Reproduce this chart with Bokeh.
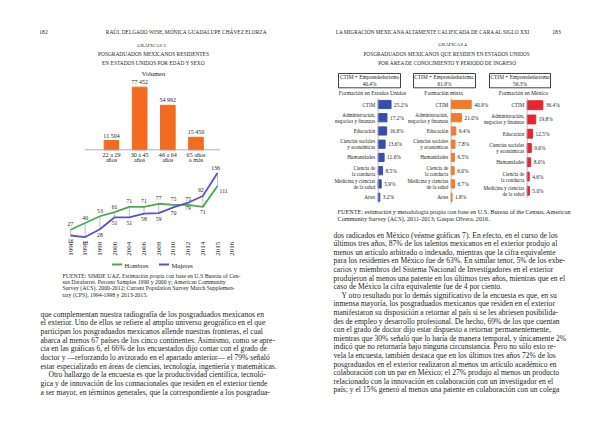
import math
from bokeh.plotting import figure
from bokeh.models import Range1d
from bokeh.core.properties import value
from bokeh.embed import file_html
from bokeh.resources import INLINE

# ---------------- data ----------------
age_groups = ["22 a 29\naños", "30 a 45\naños", "46 a 64\naños", "65 años\no más"]
age_volume = [11504, 77452, 54992, 15450]
age_volume_labels = ["11 504", "77 452", "54 992", "15 450"]

years = ["1990", "1994", "1998", "2000", "2004", "2006", "2008", "2010", "2012", "2014", "2015", "2016"]
hombres = [27, 40, 53, 61, 71, 71, 77, 75, 75, 71, 111]
mujeres = [16, 13, 28, 51, 51, 58, 59, 70, 79, 92, 136]

areas = ["CTIM", "Administración,\nnegocios y finanzas", "Educación",
         "Ciencias sociales\ny económicas", "Humanidades", "Ciencia de\nla conducta",
         "Medicina y ciencias\nde la salud", "Artes"]
pct_eu = [25.2, 17.2, 16.6, 13.6, 11.6, 8.5, 5.9, 3.2]
pct_mixta = [40.9, 21.0, 9.4, 7.8, 6.5, 6.0, 6.7, 1.8]
pct_mex = [36.4, 19.8, 12.5, 9.6, 8.0, 4.6, 5.0]
panel_titles = ["Formación en Estados Unidos", "Formación mixta", "Formación en México"]
box_texts = ["CTIM + Emprendedurismo\n40.4%", "CTIM + Emprendedurismo:\n61.9%", "CTIM + Emprendedurismo\n56.3%"]

left_body = [
    "que complementan nuestra radiografía de los posgraduados mexicanos en",
    "el exterior. Uno de ellos se refiere al amplio universo geográfico en el que",
    "participan los posgraduados mexicanos allende nuestras fronteras, el cual",
    "abarca al menos 67 países de los cinco continentes. Asimismo, como se apre-",
    "cia en las gráficas 6, el 66% de los encuestados dijo contar con el grado de",
    "doctor y —reforzando lo avizorado en el apartado anterior— el 79% señaló",
    "estar especializado en áreas de ciencias, tecnología, ingeniería y matemáticas.",
    "Otro hallazgo de la encuesta es que la productividad científica, tecnoló-",
    "gica y de innovación de los connacionales que residen en el exterior tiende",
    "a ser mayor, en términos generales, que la correspondiente a los posgradua-",
]
right_body = [
    "dos radicados en México (véanse gráficas 7). En efecto, en el curso de los",
    "últimos tres años, 87% de los talentos mexicanos en el exterior produjo al",
    "menos un artículo arbitrado o indexado, mientras que la cifra equivalente",
    "para los residentes en México fue de 63%. En similar tenor, 5% de los exbe-",
    "carios y miembros del Sistema Nacional de Investigadores en el exterior",
    "produjeron al menos una patente en los últimos tres años, mientras que en el",
    "caso de México la cifra equivalente fue de 4 por ciento.",
    "Y otro resultado por lo demás significativo de la encuesta es que, en su",
    "inmensa mayoría, los posgraduados mexicanos que residen en el exterior",
    "manifestaron su disposición a retornar al país si se les abriesen posibilida-",
    "des de empleo y desarrollo profesional. De hecho, 69% de los que cuentan",
    "con el grado de doctor dijo estar dispuesto a retornar permanentemente,",
    "mientras que 30% señaló que lo haría de manera temporal, y únicamente 2%",
    "indicó que no retornaría bajo ninguna circunstancia. Pero no sólo esto re-",
    "vela la encuesta, también destaca que en los últimos tres años 72% de los",
    "posgraduados en el exterior realizaron al menos un artículo académico en",
    "colaboración con un par en México; el 27% produjo al menos un producto",
    "relacionado con la innovación en colaboración con un investigador en el",
    "país; y el 15% generó al menos una patente en colaboración con un colega",
]
left_source = [
    "FUENTE: SIMDE UAZ. Estimación propia con base en U.S Bureau of Cen-",
    "sus Dataferret. Percent Samples 1990 y 2000 y; American Community",
    "Survey (ACS), 2000-2012; Current Population Survey March Supplemen-",
    "tary (CPS), 1994-1998 y 2013-2015.",
]
right_source = [
    "FUENTE: estimación y metodología propia con base en U.S. Bureau of the Census, American",
    "Community Survey (ACS), 2011-2013; Gaspar Olvera, 2016.",
]

# ---------------- styling / layout ----------------
W, H = 584, 415
FX0, FX1 = 0, 584      # frame in page pixels
FY_BOT, FY_TOP = 415, 0
SERIF = "Liberation Serif"
INK = "#231f20"
ORANGE_L = "#f26b21"
GREEN = "#47ad4c"
VIOLET = "#5a50cc"
BLUE_B = "#3b4cb0"
ORANGE_B = "#f27a2a"
RED_B = "#e62631"

p = figure(width=W, height=H, x_range=Range1d(FX0, FX1), y_range=Range1d(FY_BOT, FY_TOP),
           output_backend="svg", toolbar_location=None, min_border=0)
p.axis.visible = False
p.grid.visible = False
p.outline_line_color = None
p.background_fill_color = "white"
p.border_fill_color = "white"


def lin_range(p0, p1, v0, v1, f0, f1):
    k = (v1 - v0) / (p1 - p0)
    return Range1d(start=v0 + (f0 - p0) * k, end=v0 + (f1 - p0) * k)


def txt(x, y, s, size, align="center", baseline="middle", color=INK, angle=0,
        style="normal", lh=1.15, **kw):
    xs = x if isinstance(x, list) else [x]
    ys = y if isinstance(y, list) else [y]
    ss = s if isinstance(s, list) else [s]
    p.text(x=xs, y=ys, text=ss, text_font=value(SERIF), text_font_size=f"{size}px",
           text_align=align, text_baseline=baseline, text_color=color, angle=angle,
           text_font_style=style, text_line_height=lh, **kw)


# ---------------- page headers ----------------
txt(43, 31, "182", 5.6)
txt(186, 31, "RAÚL DELGADO WISE, MÓNICA GUADALUPE CHÁVEZ ELORZA", 5.4)
txt(556, 31, "183", 5.6)
txt(433, 31, "LA MIGRACIÓN MEXICANA ALTAMENTE CALIFICADA DE CARA AL SIGLO XXI", 5.3)

# ---------------- left: bar chart (volume by age) ----------------
txt(151, 45, "GRÁFICAS 3", 5.0)
txt(153, 53, "POSGRADUADOS MEXICANOS RESIDENTES", 5.4)
txt(153, 62, "EN ESTADOS UNIDOS POR EDAD Y SEXO", 5.4)
txt(153, 73, "Volumen", 6.5)

p.extra_x_ranges["volx"] = lin_range(111, 195.5, 0, 3, FX0, FX1)
p.extra_y_ranges["voly"] = lin_range(149.3, 86.7, 0, 77452, FY_BOT, FY_TOP)
idx4 = list(range(len(age_groups)))
p.vbar(x=idx4, top=age_volume, bottom=0, width=0.52, color=ORANGE_L,
       x_range_name="volx", y_range_name="voly")
p.segment(x0=[-0.5 - 0.45], y0=[0], x1=[len(age_groups) - 0.5 + 0.35], y1=[0],
          line_color="#9a9a9a", line_width=0.8, x_range_name="volx", y_range_name="voly")
p.text(x=idx4, y=age_volume, text=age_volume_labels, y_offset=-2,
       text_font=value(SERIF), text_font_size="6px", text_align="center",
       text_baseline="bottom", text_color=INK, x_range_name="volx", y_range_name="voly")
p.text(x=idx4, y=[0] * 4, text=age_groups, y_offset=2,
       text_font=value(SERIF), text_font_size="6.1px", text_align="center",
       text_baseline="top", text_color=INK, text_line_height=0.95,
       x_range_name="volx", y_range_name="voly")

# ---------------- left: line chart (hombres / mujeres) ----------------
p.extra_x_ranges["yrx"] = lin_range(70, 231.7, 0, 11, FX0, FX1)
p.extra_y_ranges["yry"] = lin_range(243.3, 172.6, 0, 136, FY_BOT, FY_TOP)
idx_y = list(range(len(hombres)))
p.segment(x0=idx_y, y0=hombres, x1=idx_y, y1=mujeres, line_color="#8f8cc8",
          line_width=0.6, x_range_name="yrx", y_range_name="yry")
p.line(x=idx_y, y=hombres, line_color=GREEN, line_width=1.8,
       x_range_name="yrx", y_range_name="yry")
p.line(x=idx_y, y=mujeres, line_color=VIOLET, line_width=1.8,
       x_range_name="yrx", y_range_name="yry")
lab = dict(text_font=value(SERIF), text_font_size="5.8px", text_color=INK,
           x_range_name="yrx", y_range_name="yry")
n_reg = 9
p.text(x=idx_y[:n_reg], y=hombres[:n_reg], text=[str(v) for v in hombres[:n_reg]],
       y_offset=-3.5, text_align="center", text_baseline="bottom", **lab)
p.text(x=idx_y[:n_reg], y=mujeres[:n_reg], text=[str(v) for v in mujeres[:n_reg]],
       y_offset=3.5, text_align="center", text_baseline="top", **lab)
p.text(x=idx_y[n_reg:], y=mujeres[n_reg:], text=[str(v) for v in mujeres[n_reg:]],
       y_offset=-3.5, x_offset=-2, text_align="center", text_baseline="bottom", **lab)
p.text(x=[idx_y[n_reg]], y=[hombres[n_reg]], text=[str(hombres[n_reg])],
       y_offset=3, text_align="center", text_baseline="top", **lab)
p.text(x=[idx_y[n_reg + 1]], y=[hombres[n_reg + 1]], text=[str(hombres[n_reg + 1])],
       y_offset=3, x_offset=2, text_align="left", text_baseline="top", **lab)
p.text(x=list(range(len(years))), y=[0] * len(years), text=years, y_offset=5,
       angle=math.pi / 2, text_align="center", text_baseline="middle",
       text_font=value(SERIF), text_font_size="7px", text_color=INK,
       x_range_name="yrx", y_range_name="yry")
# legend
p.segment(x0=[111.5], y0=[264], x1=[121.5], y1=[264], line_color=GREEN, line_width=1.8)
txt(124, 264.5, "Hombres", 6.5, align="left")
p.segment(x0=[158.5], y0=[264], x1=[168.5], y1=[264], line_color=VIOLET, line_width=1.8)
txt(171, 264.5, "Mujeres", 6.5, align="left")

txt([62] * len(left_source), [275 + 6.4 * i for i in range(len(left_source))],
    left_source, 5.8, align="left")

# ---------------- left body text ----------------
txt([48 if i == 7 else 40 for i in range(len(left_body))],
    [313.5 + 8.7 * i for i in range(len(left_body))], left_body, 7.6, align="left")

# ---------------- right: three horizontal bar panels ----------------
txt(452, 44, "GRÁFICAS 4", 5.0)
txt(446, 53, "POSGRADUADOS MEXICANOS QUE RESIDEN EN ESTADOS UNIDOS", 5.3)
txt(447, 62, "POR ÁREA DE CONOCIMIENTO Y PERIODO DE INGRESO", 5.3)

boxes = [(338, 400), (413, 475), (489, 550)]
for (bx0, bx1), bt in zip(boxes, box_texts):
    p.quad(left=[bx0], right=[bx1], top=[73], bottom=[87.3], fill_color=None,
           line_color="#111111", line_width=0.8)
    txt((bx0 + bx1) / 2, 80, bt, 5.4, lh=1.2)

panels = [
    ("eu", pct_eu, BLUE_B, 377.7, 0.51, 104.0, 196.7, 372),
    ("mx", pct_mixta, ORANGE_B, 450.7, 0.49, 104.0, 196.7, 443),
    ("me", pct_mex, RED_B, 526.7, 0.43, 104.7, 190.3, 523),
]
for k, (name, vals, col, ax_px, scale, y_first, y_last, title_x) in enumerate(panels):
    n = len(vals)
    cats = areas[:n]
    xr = f"{name}x"
    yr = f"{name}y"
    p.extra_x_ranges[xr] = lin_range(ax_px, ax_px + 10 * scale, 0, 10, FX0, FX1)
    p.extra_y_ranges[yr] = lin_range(y_first, y_last, 0, n - 1, FY_BOT, FY_TOP)
    ii = list(range(n))
    p.hbar(y=ii, right=vals, left=0, height=0.62, color=col,
           x_range_name=xr, y_range_name=yr)
    p.segment(x0=[0], y0=[-0.5], x1=[0], y1=[n - 0.5], line_color="#a0a0a0",
              line_width=0.7, x_range_name=xr, y_range_name=yr)
    p.text(x=vals, y=ii, text=[f"{v:.1f}%" for v in vals], x_offset=3,
           text_font=value(SERIF), text_font_size="5.4px", text_align="left",
           text_baseline="middle", text_color=INK, x_range_name=xr, y_range_name=yr)
    p.text(x=[0] * n, y=ii, text=cats, x_offset=-3,
           text_font=value(SERIF), text_font_size="5.1px", text_align="right",
           text_baseline="middle", text_color=INK, text_line_height=1.0,
           x_range_name=xr, y_range_name=yr)
    txt(title_x, 92.7, panel_titles[k], 5.6)

txt([337] * len(right_source), [211 + 6.7 * i for i in range(len(right_source))],
    right_source, 6.2, align="left")

# ---------------- right body text ----------------
txt([341 if i == 7 else 333 for i in range(len(right_body))],
    [234.5 + 8.6 * i for i in range(len(right_body))], right_body, 7.6, align="left")

open("out.html", "w").write(file_html(p, INLINE))
